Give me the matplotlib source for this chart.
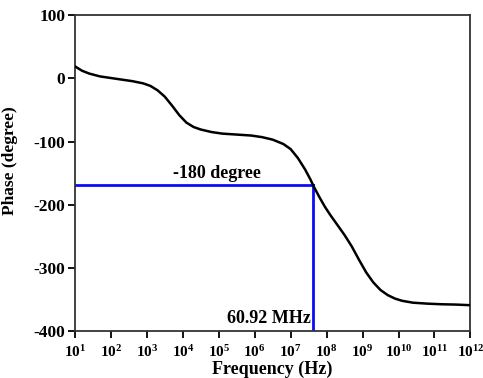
import matplotlib
matplotlib.use("Agg")
import matplotlib.pyplot as plt
import numpy as np

# Data (log10 of frequency in Hz, phase in degrees)
log_freq = [1.0, 1.2, 1.4, 1.7, 2.0, 2.3, 2.6, 2.9, 3.1, 3.3, 3.5, 3.7, 3.9,
            4.1, 4.3, 4.5, 4.8, 5.1, 5.5, 5.9, 6.2, 6.5, 6.8, 7.0, 7.2, 7.4,
            7.55, 7.65, 7.8, 7.95, 8.1, 8.3, 8.5, 8.7, 8.9, 9.1, 9.3, 9.5,
            9.7, 9.9, 10.1, 10.4, 10.8, 11.2, 11.6, 12.0]
phase = [19, 12, 7.5, 3, 0.5, -2, -4.5, -8, -12, -19, -29, -43, -58,
         -70, -77, -81, -85, -87.5, -89, -90.5, -93, -97, -104, -112, -126, -144,
         -160, -172, -188, -203, -216, -232, -248, -266, -287, -307, -323, -335,
         -343, -348.5, -352, -355, -356.5, -357.5, -358, -359]

marker_phase = -169          # horizontal blue guide
marker_freq = 10 ** 7.61     # vertical blue guide
marker_label = "-180 degree"
freq_label = "60.92 MHz"

xtick_exps = list(range(1, 13))
yticks = [-400, -300, -200, -100, 0, 100]

plt.rcParams['font.family'] = ['Liberation Serif', 'DejaVu Serif']
plt.rcParams['font.weight'] = 'bold'
plt.rcParams['mathtext.fontset'] = 'custom'
plt.rcParams['mathtext.rm'] = 'Liberation Serif:bold'
plt.rcParams['mathtext.it'] = 'Liberation Serif:bold'
plt.rcParams['mathtext.bf'] = 'Liberation Serif:bold'

fig = plt.figure(figsize=(4.83, 3.78), dpi=100)
ax = fig.add_axes([0.155, 0.124, 0.819, 0.836])

freq = [10 ** e for e in log_freq]
ax.plot(freq, phase, color='black', lw=1.8, zorder=3, solid_joinstyle='round')

xmin, xmax = 10 ** 1, 10 ** 12
ymin, ymax = -400, 100
ax.set_xscale('log')
ax.set_xlim(xmin, xmax)
ax.set_ylim(ymin, ymax)

ax.plot([xmin, marker_freq], [marker_phase, marker_phase], color='#0a0aff', lw=2, zorder=2)
ax.plot([marker_freq, marker_freq], [marker_phase, ymin], color='#0a0aff', lw=2, zorder=2)

ax.text(10 ** 4.95, marker_phase + 5, marker_label, ha='center', va='bottom',
        fontsize=13, fontweight='bold')
ax.text(10 ** 7.55, ymin + 6, freq_label, ha='right', va='bottom',
        fontsize=13, fontweight='bold')

ax.set_xticks([10 ** e for e in xtick_exps])
ax.set_xticklabels([r'$10^{%d}$' % e for e in xtick_exps])
ax.xaxis.set_minor_locator(matplotlib.ticker.NullLocator())
ax.set_yticks(yticks)
ax.set_yticklabels([str(v) for v in yticks])

ax.tick_params(axis='both', direction='out', length=5, width=1.3,
               top=False, right=False)
ax.tick_params(axis='x', labelsize=11, pad=4)
ax.tick_params(axis='y', labelsize=12.5, pad=2)
for lab in ax.get_yticklabels():
    lab.set_fontweight('bold')
for s in ax.spines.values():
    s.set_linewidth(1.3)
    s.set_color('#333333')

ax.set_xlabel('Frequency (Hz)', fontsize=13, fontweight='bold')
ax.xaxis.set_label_coords(0.5, -0.095)
ax.set_ylabel('Phase (degree)', fontsize=12.5, fontweight='bold')
ax.yaxis.set_label_coords(-0.145, 0.54)

fig.savefig('out.png', dpi=100)
